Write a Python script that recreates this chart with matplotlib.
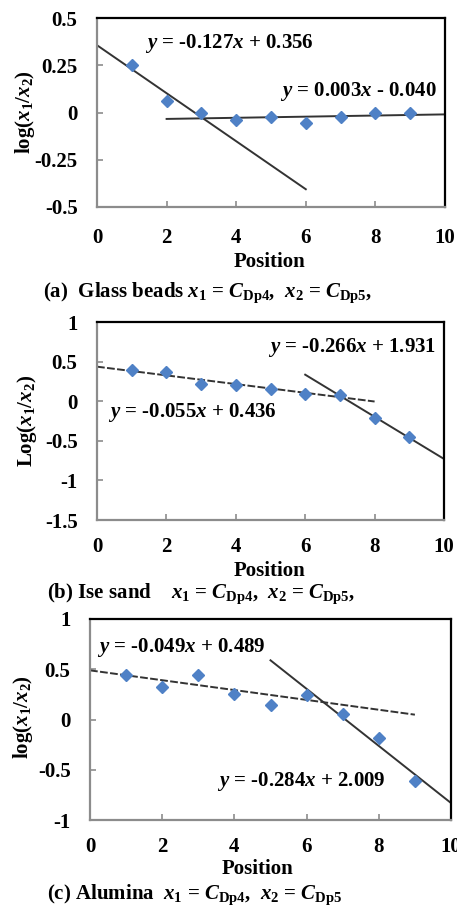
import matplotlib
matplotlib.use("Agg")
import matplotlib.pyplot as plt
import numpy as np

plt.rcParams['font.family'] = ['Liberation Serif', 'DejaVu Serif']
plt.rcParams['font.weight'] = 'bold'
plt.rcParams['mathtext.fontset'] = 'custom'
plt.rcParams['mathtext.rm'] = 'Liberation Serif:bold'
plt.rcParams['mathtext.bf'] = 'Liberation Serif:bold'
plt.rcParams['mathtext.it'] = 'Liberation Serif:italic:bold'

# ---- data ----
positions = [1, 2, 3, 4, 5, 6, 7, 8, 9]
glass_vals = [0.25, 0.063, 0.0, -0.04, -0.026, -0.058, -0.026, -0.003, 0.0]
ise_vals = [0.40, 0.366, 0.22, 0.206, 0.15, 0.097, 0.076, -0.21, -0.45]
alumina_vals = [0.447, 0.32, 0.447, 0.258, 0.142, 0.245, 0.056, -0.185, -0.616]

# fit lines: (slope, intercept, x_start, x_end)
glass_fits = [(-0.127, 0.356, 0, 6), (0.003, -0.040, 2, 10)]
ise_fits = [(-0.055, 0.436, 0, 8), (-0.266, 1.931, 6, 10)]
alumina_fits = [(-0.049, 0.489, 0, 9), (-0.284, 2.009, 5, 10)]

glass_yticks = [-0.5, -0.25, 0, 0.25, 0.5]
glass_yticklabels = ['-0.5', '-0.25', '0', '0.25', '0.5']
ise_yticks = [-1.5, -1, -0.5, 0, 0.5, 1]
ise_yticklabels = ['-1.5', '-1', '-0.5', '0', '0.5', '1']
alumina_yticks = [-1, -0.5, 0, 0.5, 1]
alumina_yticklabels = ['-1', '-0.5', '0', '0.5', '1']
xticks = [0, 2, 4, 6, 8, 10]

W, H = 457, 909
fig = plt.figure(figsize=(W / 100, H / 100), dpi=100)

FS = 15
TFS = 15
BLUE = '#4F81C6'


def px_axes(l, t, r, b):
    return fig.add_axes([l / W, 1 - b / H, (r - l) / W, (b - t) / H])


def style(ax, ylim, yticks, ylabels, xpad):
    ax.set_xlim(0, 10)
    ax.set_ylim(*ylim)
    ax.set_xticks(xticks)
    ax.set_xticklabels([str(v) for v in xticks])
    ax.set_yticks(yticks)
    ax.set_yticklabels(ylabels)
    for s in ['left', 'bottom']:
        ax.spines[s].set_color('#8c8c8c')
        ax.spines[s].set_linewidth(1.6)
    for s in ['top', 'right']:
        ax.spines[s].set_color('black')
        ax.spines[s].set_linewidth(1.6)
    ax.tick_params(axis='x', direction='in', length=4, width=1.2, color='#8c8c8c',
                   pad=xpad, labelsize=TFS)
    ax.tick_params(axis='y', direction='in', length=4, width=1.2, color='#8c8c8c',
                   pad=14, labelsize=TFS)
    for lab in ax.get_xticklabels() + ax.get_yticklabels():
        lab.set_fontweight('bold')


def draw(ax, vals, fits, dashed_first):
    for i, (m, c, x0, x1) in enumerate(fits):
        xs = np.array([x0, x1], dtype=float)
        ls = (0, (4, 1.2)) if (dashed_first and i == 0) else '-'
        ax.plot(xs, m * xs + c, color='#333333', lw=1.4, ls=ls, zorder=2)
    ax.plot(positions, vals, ls='none', marker='D', ms=6.5, color=BLUE,
            mec=BLUE, zorder=3)


def eq(ax, x, y, m, c):
    sign = '+' if c >= 0 else '-'
    txt = r'$y$ = %.3f$x$ %s %.3f' % (m, sign, abs(c))
    ax.text(x, y, txt, fontsize=FS, ha='left', va='center', zorder=4)


# (a)
ax1 = px_axes(97, 18, 445, 207)
style(ax1, (-0.5, 0.5), glass_yticks, glass_yticklabels, 15)
draw(ax1, glass_vals, glass_fits, False)
eq(ax1, 1.38, 0.367, *glass_fits[0][:2])
eq(ax1, 5.26, 0.11, *glass_fits[1][:2])

# (b)
ax2 = px_axes(97, 322, 444, 520)
style(ax2, (-1.5, 1), ise_yticks, ise_yticklabels, 12)
draw(ax2, ise_vals, ise_fits, True)
eq(ax2, 4.93, 0.68, *ise_fits[1][:2])
eq(ax2, 0.32, -0.14, *ise_fits[0][:2])

# (c)
ax3 = px_axes(90, 619, 451, 820)
style(ax3, (-1, 1), alumina_yticks, alumina_yticklabels, 12)
draw(ax3, alumina_vals, alumina_fits, True)
eq(ax3, 0.19, 0.72, *alumina_fits[0][:2])
eq(ax3, 3.52, -0.62, *alumina_fits[1][:2])


def ftext(x, y, s, **kw):
    fig.text(x / W, 1 - y / H, s, fontsize=FS, **kw)


# x labels
ftext(270, 262, 'Position', ha='center', va='center')
ftext(269, 571, 'Position', ha='center', va='center')
ftext(258, 869, 'Position', ha='center', va='center')

# y labels
ftext(25, 112, r'log($x_1$/$x_2$)', ha='center', va='center', rotation=90)
ftext(27, 421, r'Log($x_1$/$x_2$)', ha='center', va='center', rotation=90)
ftext(23, 717, r'log($x_1$/$x_2$)', ha='center', va='center', rotation=90)

# captions
ftext(43, 293, r'(a)  Glass beads $x_1$ = $C_{\mathrm{Dp4}}$,  $x_2$ = $C_{\mathrm{Dp5}}$,',
      ha='left', va='center')
ftext(47, 594, r'(b) Ise sand    $x_1$ = $C_{\mathrm{Dp4}}$,  $x_2$ = $C_{\mathrm{Dp5}}$,',
      ha='left', va='center')
ftext(47, 895, r'(c) Alumina  $x_1$ = $C_{\mathrm{Dp4}}$,  $x_2$ = $C_{\mathrm{Dp5}}$',
      ha='left', va='center')

fig.savefig('out.png', dpi=100)
